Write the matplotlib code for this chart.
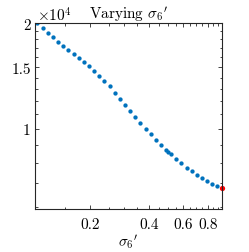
import numpy as np
import matplotlib
matplotlib.use("Agg")
import matplotlib.pyplot as plt
from matplotlib.ticker import FixedLocator, FixedFormatter, NullFormatter

plt.rcParams['font.family'] = 'serif'
plt.rcParams['font.serif'] = ['cmr10', 'DejaVu Serif']
plt.rcParams['mathtext.fontset'] = 'cm'
plt.rcParams['axes.formatter.use_mathtext'] = True

# sigma_6' sweep
sigma6 = [0.1079, 0.1151, 0.1225, 0.1300, 0.1379, 0.1461, 0.1550, 0.1652,
          0.1751, 0.1864, 0.1977, 0.2104, 0.2231, 0.2366, 0.2521, 0.2673,
          0.2835, 0.3017, 0.3199, 0.3405, 0.3611, 0.3847, 0.4080, 0.4327,
          0.4605, 0.4885, 0.5018, 0.5180, 0.5512, 0.5846, 0.6229, 0.6606,
          0.7031, 0.7455, 0.7907, 0.8415, 0.8923]
cost = [20000, 19400, 18810, 18290, 17730, 17270, 16790, 16360,
        15940, 15520, 15090, 14660, 14200, 13730, 13230, 12690,
        12180, 11710, 11230, 10800, 10400, 10020, 9660, 9320,
        9000, 8710, 8600, 8470, 8210, 7990, 7760, 7580,
        7390, 7240, 7100, 6970, 6880]
best_x = [0.9485]
best_y = [6790]

xticks = [0.2, 0.4, 0.6, 0.8]
xticklabels = ['0.2', '0.4', '0.6', '0.8']
yticks = [10000, 15000, 20000]
yticklabels = ['1', '1.5', '2']

fs = 11

fig = plt.figure(figsize=(2.49, 2.53), dpi=100)
fig.patch.set_facecolor('white')
ax = fig.add_axes([0.1406, 0.170, 0.751, 0.734])

ax.plot(sigma6, cost, 'o', color='#0072BD', ms=3.1, mew=0)
ax.plot(best_x, best_y, 'o', color='#FF0000', ms=3.8, mew=0, clip_on=False)

ax.set_xscale('log')
ax.set_yscale('log')
ax.set_xlim(0.105, 0.945)
ax.set_ylim(5920, 20000)

ax.xaxis.set_major_locator(FixedLocator(xticks))
ax.xaxis.set_major_formatter(FixedFormatter(xticklabels))
ax.xaxis.set_minor_locator(FixedLocator([0.15, 0.25, 0.3, 0.35, 0.45, 0.5, 0.55, 0.65, 0.7, 0.75, 0.85, 0.9]))
ax.xaxis.set_minor_formatter(NullFormatter())
ax.yaxis.set_major_locator(FixedLocator(yticks))
ax.yaxis.set_major_formatter(FixedFormatter(yticklabels))
ax.yaxis.set_minor_locator(FixedLocator([6000, 7000, 8000, 9000, 11000, 12000, 13000, 14000,
                                         16000, 17000, 18000, 19000]))
ax.yaxis.set_minor_formatter(NullFormatter())

ax.tick_params(which='both', direction='in', top=True, right=True, labelsize=fs,
               color='#262626', width=0.6, pad=3)
ax.tick_params(axis='x', which='major', pad=6)
ax.tick_params(which='major', length=3)
ax.tick_params(which='minor', length=1.8)
for s in ax.spines.values():
    s.set_linewidth(0.8)
    s.set_color('#262626')

ax.text(0.01, 1.0, r'$\times10^4$', transform=ax.transAxes, ha='left', va='bottom', fontsize=fs)
ax.set_title(r"Varying $\sigma_6{'}$", fontsize=fs, pad=2)
ax.set_xlabel(r"$\sigma_6{'}$", fontsize=fs, labelpad=0.5)

fig.savefig('out.png', dpi=100)
